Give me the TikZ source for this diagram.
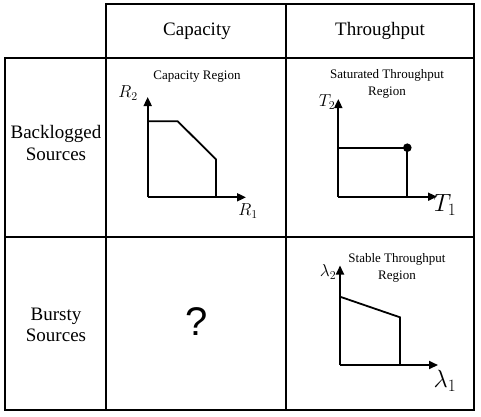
\documentclass[tikz,border=0pt]{standalone}
\usepackage{fontspec}
\setmainfont{Liberation Serif}
\newfontfamily\qfont{Liberation Sans}
\usetikzlibrary{arrows.meta}
\begin{document}
\begin{tikzpicture}[x=1pt,y=-1pt,
  grid/.style={line width=1.8pt,line join=miter},
  axis/.style={line width=1.8pt,-{Triangle[length=9pt,width=8pt]}},
  curve/.style={line width=1.8pt,line join=miter},
  hdr/.style={font=\fontsize{19}{21}\selectfont,inner sep=0pt},
  rowlab/.style={font=\fontsize{19}{21.5}\selectfont,align=center,inner sep=0pt},
  ttl/.style={font=\fontsize{13}{16.5}\selectfont,align=center,inner sep=0pt},
  axlab/.style={font=\fontsize{18}{20}\selectfont,inner sep=0pt},
  biglab/.style={font=\fontsize{23}{25}\selectfont,inner sep=0pt}]
\useasboundingbox (0,0) rectangle (481,416);
\fill[white] (0,0) rectangle (481,416);
% table grid
\draw[grid] (106,4) rectangle (474,58);
\draw[grid] (286,4) -- (286,58);
\draw[grid] (5,58) rectangle (106,410);
\draw[grid] (5,237) -- (106,237);
\draw[grid] (106,58) rectangle (474,410);
\draw[grid] (286,58) -- (286,410);
\draw[grid] (106,237) -- (474,237);
% headers
\node[hdr] (hcap) at (197,31) {Capacity};
\node[hdr] (hthr) at (380,31) {Throughput};
\node[rowlab] (rback) at (56,143) {Backlogged\\Sources};
\node[rowlab] (rburst) at (56,325) {Bursty\\Sources};
\node[font=\qfont\fontsize{40}{40}\selectfont,inner sep=0pt] (qm) at (197,322) {?};
% Capacity region
\node[ttl] (tcap) at (197,77) {Capacity Region};
\coordinate (o1) at (147.7,197.3);
\coordinate (y1) at (147.7,97);
\coordinate (x1) at (246,197.3);
\draw[axis] (o1) -- (y1);
\draw[axis] (o1) -- (x1);
\coordinate (c1) at (147.7,121.3);
\coordinate (c2) at (177.7,121.3);
\coordinate (c3) at (216,159.3);
\coordinate (c4) at (216,197.3);
\draw[curve] (c1) -- (c2) -- (c3) -- (c4);
\node[axlab] (R2) at (128,93) {$R_2$};
\node[axlab] (R1) at (248,211) {$R_1$};
% Saturated throughput
\node[ttl] (tsat) at (387,84) {Saturated Throughput\\Region};
\coordinate (o2) at (338.3,196.7);
\coordinate (y2) at (338.3,99);
\coordinate (x2) at (437,196.7);
\draw[axis] (o2) -- (y2);
\draw[axis] (o2) -- (x2);
\coordinate (s1) at (338.3,147.7);
\coordinate (s2) at (407.3,147.7);
\coordinate (s3) at (407.3,196.7);
\draw[curve] (s1) -- (s2) -- (s3);
\fill (s2) circle (4.3pt);
\node[axlab] (T2) at (327,102) {$T_2$};
\node[biglab] (T1) at (445,205) {$T_1$};
% Stable throughput
\node[ttl] (tsta) at (397,268) {Stable Throughput\\Region};
\coordinate (o3) at (340,365);
\coordinate (y3) at (340,265.5);
\coordinate (x3) at (438,365);
\draw[axis] (o3) -- (y3);
\draw[axis] (o3) -- (x3);
\coordinate (b1) at (340,296.7);
\coordinate (b2) at (400,317.3);
\coordinate (b3) at (400,365);
\draw[curve] (b1) -- (b2) -- (b3);
\node[axlab] (l2) at (328,272) {$\lambda_2$};
\node[biglab] (l1) at (445,381) {$\lambda_1$};
\end{tikzpicture}
\end{document}
